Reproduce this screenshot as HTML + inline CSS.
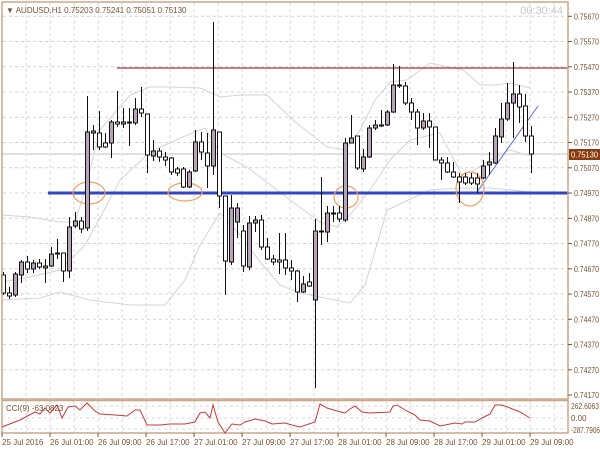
<!DOCTYPE html>
<html><head><meta charset="utf-8"><style>
html,body{margin:0;padding:0;background:#fff;width:600px;height:450px;overflow:hidden}
svg{display:block}
text{font-family:"Liberation Sans",sans-serif}
</style></head><body>
<svg width="600" height="450" viewBox="0 0 600 450" xmlns="http://www.w3.org/2000/svg">
<rect width="600" height="450" fill="#fff"/>
<g id="grid" stroke="#d4d4d4" stroke-width="1" stroke-dasharray="3,3"></g>
<g id="bands" fill="none" stroke="#d4d4d4" stroke-width="1">
<polyline points="2,215 30,217 60,222 75,222 85,190 100,130 130,95 150,87 170,87 200,88 220,97 240,95 267,95 293,120 327,147 345,150 360,130 375,100 390,82 407,80 430,63 463,70 480,85 495,85 510,83 530,88"/>
<polyline points="2,282 30,277 60,270 85,245 100,218 120,180 150,152 180,138 205,128 220,153 247,167 290,200 320,222 337,227 350,215 370,190 390,160 410,140 440,133 463,177 490,160 510,150 530,156"/>
<polyline points="2,300 40,298 60,292 90,300 130,305 165,305 185,280 200,245 220,213 240,235 260,262 280,285 300,293 350,303 365,285 387,210 430,190 460,188 490,188 530,192"/>
</g>
<line x1="2" y1="154" x2="568" y2="154" stroke="#e0e0e0" stroke-width="2"/>
<line x1="117" y1="68" x2="568" y2="68" stroke="#a8303c" stroke-width="1.2"/>
<line x1="48" y1="193" x2="568" y2="193" stroke="#3344c4" stroke-width="3"/>
<line x1="477" y1="192" x2="538" y2="106" stroke="#5a6ad8" stroke-width="1"/>
<g fill="none" stroke="#f0a060" stroke-width="1.2">
<ellipse cx="89" cy="193" rx="16" ry="11"/>
<ellipse cx="185" cy="192" rx="17" ry="9"/>
<ellipse cx="346" cy="197" rx="12" ry="11"/>
<ellipse cx="470" cy="189" rx="14" ry="17"/>
</g>
<g id="candles"></g>
<rect x="2" y="2" width="566" height="397" fill="none" stroke="#c8a888" stroke-width="1.5"/>
<rect x="2" y="400.5" width="566" height="32.5" fill="none" stroke="#c8a888" stroke-width="1.5"/>
<text x="6" y="13" font-size="8" fill="#7a5230">▼ AUDUSD,H1  0.75203 0.75241 0.75051 0.75130</text>
<text x="563" y="14" font-size="11" fill="#c8c8c8" text-anchor="end">00:30:44</text>
<g id="plabels" font-size="8" fill="#7a5230"></g>
<rect x="569" y="149" width="31" height="11" fill="#8b3a0f"/>
<text x="571" y="157.5" font-size="8" fill="#fff" textLength="27" lengthAdjust="spacingAndGlyphs">0.75130</text>
<g stroke="#d8d8d8" stroke-dasharray="3,3"><line x1="2" y1="406" x2="568" y2="406"/><line x1="2" y1="418" x2="568" y2="418"/><line x1="2" y1="429" x2="568" y2="429"/></g>
<polyline fill="none" stroke="#c83a3a" stroke-width="1" points="2,427 20,420 35,412 40,414 45,408 50,413 57,405 62,418 68,407 75,406 80,410 87,403 95,411 100,414 115,415 127,416 135,410 140,410 147,425 160,425 170,424 185,424 195,422 200,413 205,412 210,418 213,405 218,422 225,433 232,424 240,425 245,422 255,419 265,421 272,424 285,423 292,425 300,427 315,422 320,404 327,408 337,411 345,413 350,409 355,406 362,412 370,413 390,412 393,406 397,405 405,410 415,415 420,420 430,421 440,426 450,424 455,423 462,424 465,422 475,422 482,418 490,414 495,405 502,405 510,408 520,412 530,418"/>
<text x="6" y="411" font-size="8" fill="#7a5230">CCI(9) -63.0823</text>
<text x="571" y="409" font-size="8" fill="#7a5230" textLength="28" lengthAdjust="spacingAndGlyphs">262.6063</text>
<text x="571" y="421" font-size="8" fill="#7a5230">0.00</text>
<text x="571" y="433" font-size="8" fill="#7a5230" textLength="29" lengthAdjust="spacingAndGlyphs">-287.7906</text>
<g id="tlabels" font-size="8" fill="#7a5230"></g>
</svg>
<script>
var NS="http://www.w3.org/2000/svg";
function el(p,t,a,txt){var e=document.createElementNS(NS,t);for(var k in a)e.setAttribute(k,a[k]);if(txt)e.textContent=txt;document.getElementById(p).appendChild(e);}
for(var x=26;x<568;x+=24)el("grid","line",{x1:x,y1:3,x2:x,y2:398});
for(var x=26;x<568;x+=24)el("grid","line",{x1:x,y1:401,x2:x,y2:432});
var prices=["0.75670","0.75570","0.75470","0.75370","0.75270","0.75170","0.75070","0.74970","0.74870","0.74770","0.74670","0.74570","0.74470","0.74370","0.74270","0.74170"];
for(var k=0;k<16;k++){var y=16.3+25.25*k;if(k<15)el("grid","line",{x1:3,y1:y,x2:567,y2:y});
el("plabels","text",{x:574,y:y+3,textLength:25,lengthAdjust:"spacingAndGlyphs"},prices[k]);el("plabels","line",{x1:568,y1:y,x2:572,y2:y,stroke:"#7a5230"});}
var tl=["25 Jul 2016","26 Jul 01:00","26 Jul 09:00","26 Jul 17:00","27 Jul 01:00","27 Jul 09:00","27 Jul 17:00","28 Jul 01:00","28 Jul 09:00","28 Jul 17:00","29 Jul 01:00","29 Jul 09:00"];
for(var i=0;i<12;i++){el("tlabels","text",{x:2+48*i,y:445},tl[i]);el("tlabels","line",{x1:2+48*i,y1:433,x2:2+48*i,y2:437,stroke:"#7a5230"});}
var C=[[3,272,275,293,295,0],[9,287,293,296,299,0],[15,272,274,295,297,1],[21,260,262,275,283,1],[27,256,262,269,273,0],[33,260,263,269,273,1],[39,259,263,267,269,0],[45,259,266,268,283,1],[51,247,254,266,267,1],[57,239,253,254,259,0],[63,253,253,271,282,0],[69,217,227,271,278,1],[75,212,221,226,228,1],[81,217,221,229,233,0],[87,96,132,228,231,1],[93,125,131,133,150,1],[99,111,133,147,150,0],[105,133,143,147,148,0],[111,120,122,143,158,1],[117,91,122,124,127,0],[123,108,122,124,128,1],[129,108,122,123,146,1],[135,98,109,123,125,1],[141,87,109,113,117,0],[147,114,114,155,173,0],[153,140,151,156,161,1],[159,148,151,157,162,0],[165,152,157,160,166,0],[171,157,158,172,175,0],[177,167,169,173,176,0],[183,167,169,187,188,0],[189,170,172,187,188,1],[195,130,142,171,172,1],[201,132,142,152,160,0],[207,133,153,166,188,0],[213,22,130,166,175,1],[219,132,132,196,208,0],[225,196,196,261,295,0],[231,195,208,262,265,1],[237,203,208,222,238,1],[243,225,231,266,272,0],[249,216,223,267,270,1],[255,216,220,223,232,1],[261,215,220,247,250,0],[267,238,247,259,260,0],[273,255,259,262,265,0],[279,233,260,262,274,0],[285,233,260,268,275,0],[291,260,268,271,280,0],[297,270,271,292,302,0],[303,276,284,292,293,1],[309,273,282,286,287,0],[315,219,231,300,388,1],[321,177,231,232,245,1],[327,206,213,232,242,1],[333,206,213,214,222,0],[339,206,213,219,222,0],[345,138,143,220,222,1],[351,115,138,143,143,1],[357,136,136,168,170,0],[363,149,157,169,172,1],[369,125,128,157,158,1],[375,120,125,128,130,1],[381,110,125,126,127,0],[387,110,112,125,126,1],[393,64,85,112,113,1],[399,66,85,86,88,0],[405,82,86,103,105,0],[411,98,103,112,120,0],[417,109,112,128,145,0],[423,113,121,128,130,1],[429,113,121,127,148,0],[435,127,127,160,160,0],[441,157,160,163,180,0],[447,157,163,172,173,0],[453,162,172,177,178,0],[459,173,177,182,203,0],[465,173,177,183,185,0],[471,173,178,183,185,0],[477,173,178,184,193,0],[483,160,166,178,179,1],[489,152,162,165,175,1],[495,128,136,163,164,1],[501,103,119,137,143,1],[507,83,103,119,121,1],[513,62,94,103,138,1],[519,85,94,107,123,0],[525,94,106,136,142,0],[531,126,136,154,173,0]];
C.forEach(function(c){el("candles","line",{x1:c[0]+.5,y1:c[1],x2:c[0]+.5,y2:c[4],stroke:"#111","stroke-width":1});
var h=Math.max(c[3]-c[2],1);el("candles","rect",{x:c[0]-1.5,y:c[2],width:4,height:h,fill:c[5]?"#b8a4b8":"#fff",stroke:"#111","stroke-width":1});});
</script>
</body></html>
